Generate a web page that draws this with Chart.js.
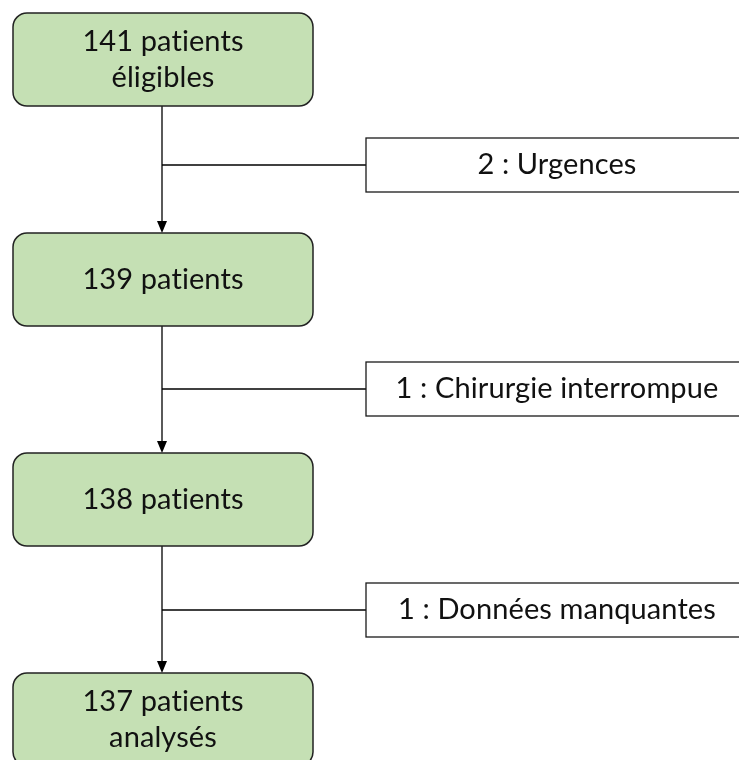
<!DOCTYPE html>
<html>
<head>
<meta charset="utf-8">
<script src="https://cdn.jsdelivr.net/npm/chart.js@4"></script>
<style>
  html, body { margin: 0; padding: 0; background: #fff; }
  #wrap { width: 739px; height: 760px; }
</style>
</head>
<body>
<div id="wrap"><canvas id="Chart"></canvas></div>
<script>
// flow chart data
const stageCounts = [141, 139, 138, 137];
const stageLabels = [
  ['141 patients', 'éligibles'],
  ['139 patients'],
  ['138 patients'],
  ['137 patients', 'analysés']
];
const exclusionCounts = [2, 1, 1];
const exclusionReasons = ['Urgences', 'Chirurgie interrompue', 'Données manquantes'];

// layout in page units (x: 0..739, y: 0..760 top down)
const mainBox = { x0: 13, x1: 313, h: 93, tops: [13, 233, 453, 673] };
const sideBox = { x0: 366, x1: 748, h: 54, tops: [138, 362, 583] };
const stemX = 162;

const font = '29px Lato, "Open Sans", sans-serif';

function roundRect(c, x, y, w, h, r) {
  c.beginPath();
  c.moveTo(x + r, y);
  c.lineTo(x + w - r, y);
  c.arcTo(x + w, y, x + w, y + r, r);
  c.lineTo(x + w, y + h - r);
  c.arcTo(x + w, y + h, x + w - r, y + h, r);
  c.lineTo(x + r, y + h);
  c.arcTo(x, y + h, x, y + h - r, r);
  c.lineTo(x, y + r);
  c.arcTo(x, y, x + r, y, r);
  c.closePath();
}

function setText(c) {
  c.fillStyle = '#111';
  c.font = font;
  c.textAlign = 'center';
  c.textBaseline = 'middle';
  c.letterSpacing = '0.1px'; // stops the "ti" ligature
}

const flowPlugin = {
  id: 'flow',
  afterDraw(chart) {
    const c = chart.ctx;
    const sx = chart.scales.x, sy = chart.scales.y;
    const px = v => sx.getPixelForValue(v);
    const py = v => sy.getPixelForValue(v);
    c.save();
    c.strokeStyle = '#000';
    c.fillStyle = '#000';
    c.lineWidth = 1.3;

    // arrows between stages
    for (let i = 0; i < stageCounts.length - 1; i++) {
      const yA = py(mainBox.tops[i] + mainBox.h);
      const yB = py(mainBox.tops[i + 1]);
      const x = px(stemX);
      c.strokeStyle = '#000';
      c.fillStyle = '#000';
      c.beginPath();
      c.moveTo(x, yA);
      c.lineTo(x, yB - 11);
      c.stroke();
      c.beginPath();
      c.moveTo(x, yB);
      c.lineTo(x - 5, yB - 12);
      c.lineTo(x + 5, yB - 12);
      c.closePath();
      c.fill();

      // branch to exclusion box
      const yL = py(sideBox.tops[i] + sideBox.h / 2);
      c.beginPath();
      c.moveTo(x, yL);
      c.lineTo(px(sideBox.x0), yL);
      c.stroke();

      const bx = px(sideBox.x0), by = py(sideBox.tops[i]);
      const bw = px(sideBox.x1) - bx, bh = py(sideBox.tops[i] + sideBox.h) - by;
      c.fillStyle = '#fff';
      c.fillRect(bx, by, bw, bh);
      c.strokeStyle = '#1a1a1a';
      c.strokeRect(bx, by, bw, bh);
      setText(c);
      c.fillText(exclusionCounts[i] + ' : ' + exclusionReasons[i], bx + bw / 2, yL);
      c.letterSpacing = '0px';
    }

    // stage boxes
    stageCounts.forEach((n, i) => {
      const x = px(mainBox.x0), y = py(mainBox.tops[i]);
      const w = px(mainBox.x1) - x, h = py(mainBox.tops[i] + mainBox.h) - y;
      roundRect(c, x, y, w, h, 14);
      c.fillStyle = '#c5e0b4';
      c.fill();
      c.strokeStyle = '#222';
      c.lineWidth = 1.5;
      c.stroke();
      const lines = stageLabels[i];
      const lh = 36;
      setText(c);
      lines.forEach((t, k) => {
        c.fillText(t, x + w / 2, y + h / 2 + (k - (lines.length - 1) / 2) * lh);
      });
      c.letterSpacing = '0px';
    });
    c.restore();
  }
};

const ctx = document.getElementById('Chart').getContext('2d');
const myChart = new Chart(ctx, {
  type: 'scatter',
  data: { datasets: [{ data: [], pointRadius: 0 }] },
  options: {
    responsive: true,
    maintainAspectRatio: false,
    animation: false,
    layout: { padding: 0 },
    plugins: { legend: { display: false }, tooltip: { enabled: false } },
    scales: {
      x: { type: 'linear', min: 0, max: 739, display: false },
      y: { type: 'linear', min: 0, max: 760, reverse: true, display: false }
    }
  },
  plugins: [flowPlugin]
});
</script>
</body>
</html>
